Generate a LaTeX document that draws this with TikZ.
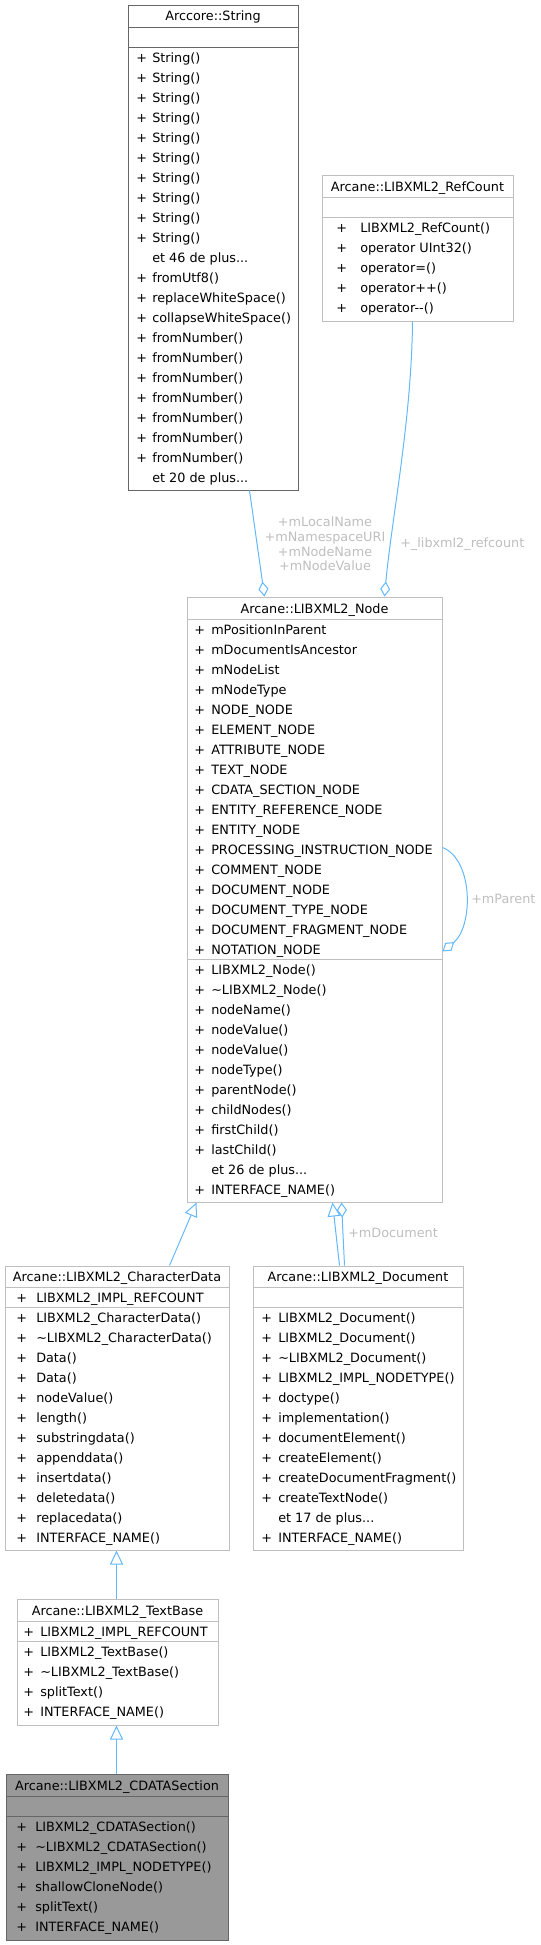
\documentclass[tikz,border=0pt]{standalone}
\usepackage{fontspec}
\setmainfont{DejaVu Sans}
\usetikzlibrary{fit,calc,arrows.meta}

\definecolor{edgeblue}{HTML}{63B8FF}
\definecolor{lblgrey}{HTML}{BEBEBE}
\definecolor{boxgrey}{HTML}{BFBFBF}
\definecolor{darkgrey}{HTML}{666666}
\definecolor{selfill}{HTML}{999999}
\newcommand{\umlfont}{\fontsize{9.6}{10.9}\selectfont}
\newcommand{\moremembers}[1]{et #1 de plus...}

\tikzset{
  classbox/.style={draw=boxgrey, line width=0.75pt, fill=white, inner sep=0pt},
  darkbox/.style={classbox, draw=darkgrey},
  rowline/.style={draw=boxgrey, line width=0.75pt},
  darkrowline/.style={rowline, draw=darkgrey},
  classname/.style={anchor=base, inner sep=0pt, font=\umlfont},
  member/.style={anchor=base west, inner sep=0pt, font=\umlfont},
  elabel/.style={inner sep=0pt, text=lblgrey, font=\umlfont},
  inherit/.style={draw=edgeblue, line width=0.75pt, -{Triangle[open, length=10.5pt, width=9.75pt]}},
  aggr/.style={draw=edgeblue, line width=0.75pt, -{Diamond[open, length=11.25pt, width=7.5pt]}}
}

\begin{document}
\begin{tikzpicture}[x=0.75pt, y=-0.75pt]
\useasboundingbox (0,0) rectangle (541,1945);

%% Arccore::String
\node[darkbox, fit={(128,5) (298,490)}] (str) {};
\draw[darkrowline] ($(str.north west)+(0,23)$) -- ($(str.north east)+(0,23)$);
\draw[darkrowline] ($(str.north west)+(0,43)$) -- ($(str.north east)+(0,43)$);
\node[classname] (str-name) at (213,21) {Arccore::String};
\foreach \sg/\mb [count=\i] in {+/String(), +/String(), +/String(), +/String(), +/String(),
    +/String(), +/String(), +/String(), +/String(), +/String(), /\moremembers{46},
    +/fromUtf8(), +/replaceWhiteSpace(), +/collapseWhiteSpace(), +/fromNumber(),
    +/fromNumber(), +/fromNumber(), +/fromNumber(), +/fromNumber(), +/fromNumber(),
    +/fromNumber(), /\moremembers{20}}
  {\node[member] (str-s\i) at (136,42.5+20*\i) {\sg};
   \node[member] (str-m\i) at (152,42.5+20*\i) {\mb};}

%% Arcane::LIBXML2_RefCount
\node[classbox, fit={(322,175) (513,321)}] (rcnt) {};
\draw[rowline] ($(rcnt.north west)+(0,23)$) -- ($(rcnt.north east)+(0,23)$);
\draw[rowline] ($(rcnt.north west)+(0,43)$) -- ($(rcnt.north east)+(0,43)$);
\node[classname] (rcnt-name) at (417.5,191) {Arcane::LIBXML2\_RefCount};
\foreach \mb [count=\i] in {LIBXML2\_RefCount(), operator UInt32(), operator=(),
    operator++(), operator-{}-()}
  {\node[member] (rcnt-s\i) at (336,212.5+20*\i) {+};
   \node[member] (rcnt-m\i) at (360,212.5+20*\i) {\mb};}

%% Arcane::LIBXML2_Node
\node[classbox, fit={(187,597) (442,1202)}] (nd) {};
\draw[rowline] ($(nd.north west)+(0,23)$) -- ($(nd.north east)+(0,23)$);
\draw[rowline] ($(nd.north west)+(0,363)$) -- ($(nd.north east)+(0,363)$);
\node[classname] (nd-name) at (314.5,613) {Arcane::LIBXML2\_Node};
\foreach \mb [count=\i] in {mPositionInParent, mDocumentIsAncestor, mNodeList, mNodeType,
    NODE\_NODE, ELEMENT\_NODE, ATTRIBUTE\_NODE, TEXT\_NODE, CDATA\_SECTION\_NODE,
    ENTITY\_REFERENCE\_NODE, ENTITY\_NODE, PROCESSING\_INSTRUCTION\_NODE, COMMENT\_NODE,
    DOCUMENT\_NODE, DOCUMENT\_TYPE\_NODE, DOCUMENT\_FRAGMENT\_NODE, NOTATION\_NODE}
  {\node[member] (nd-as\i) at (194,614.5+20*\i) {+};
   \node[member] (nd-a\i) at (211,614.5+20*\i) {\mb};}
\foreach \sg/\mb [count=\i] in {+/LIBXML2\_Node(), +/\textasciitilde LIBXML2\_Node(),
    +/nodeName(), +/nodeValue(), +/nodeValue(), +/nodeType(), +/parentNode(),
    +/childNodes(), +/firstChild(), +/lastChild(), /\moremembers{26}, +/INTERFACE\_NAME()}
  {\node[member] (nd-s\i) at (194,954.5+20*\i) {\sg};
   \node[member] (nd-m\i) at (211,954.5+20*\i) {\mb};}

%% Arcane::LIBXML2_CharacterData
\node[classbox, fit={(5,1266) (229,1550)}] (cdata) {};
\draw[rowline] ($(cdata.north west)+(0,22)$) -- ($(cdata.north east)+(0,22)$);
\draw[rowline] ($(cdata.north west)+(0,42)$) -- ($(cdata.north east)+(0,42)$);
\node[classname] (cdata-name) at (117,1281.5) {Arcane::LIBXML2\_CharacterData};
\node[member] (cdata-as1) at (16,1302.5) {+};
\node[member] (cdata-a1) at (36,1302.5) {LIBXML2\_IMPL\_REFCOUNT};
\foreach \mb [count=\i] in {LIBXML2\_CharacterData(), \textasciitilde LIBXML2\_CharacterData(),
    Data(), Data(), nodeValue(), length(), substringdata(), appenddata(), insertdata(),
    deletedata(), replacedata(), INTERFACE\_NAME()}
  {\node[member] (cdata-s\i) at (16,1302.5+20*\i) {+};
   \node[member] (cdata-m\i) at (36,1302.5+20*\i) {\mb};}

%% Arcane::LIBXML2_Document
\node[classbox, fit={(253,1266) (463,1550)}] (doc) {};
\draw[rowline] ($(doc.north west)+(0,22)$) -- ($(doc.north east)+(0,22)$);
\draw[rowline] ($(doc.north west)+(0,42)$) -- ($(doc.north east)+(0,42)$);
\node[classname] (doc-name) at (358,1281.5) {Arcane::LIBXML2\_Document};
\foreach \sg/\mb [count=\i] in {+/LIBXML2\_Document(), +/LIBXML2\_Document(),
    +/\textasciitilde LIBXML2\_Document(), +/LIBXML2\_IMPL\_NODETYPE(), +/doctype(),
    +/implementation(), +/documentElement(), +/createElement(),
    +/createDocumentFragment(), +/createTextNode(), /\moremembers{17}, +/INTERFACE\_NAME()}
  {\node[member] (doc-s\i) at (261,1302.5+20*\i) {\sg};
   \node[member] (doc-m\i) at (278,1302.5+20*\i) {\mb};}

%% Arcane::LIBXML2_TextBase
\node[classbox, fit={(17,1599) (218,1725)}] (tbase) {};
\draw[rowline] ($(tbase.north west)+(0,23)$) -- ($(tbase.north east)+(0,23)$);
\draw[rowline] ($(tbase.north west)+(0,43)$) -- ($(tbase.north east)+(0,43)$);
\node[classname] (tbase-name) at (117.5,1615) {Arcane::LIBXML2\_TextBase};
\node[member] (tbase-as1) at (23,1636.5) {+};
\node[member] (tbase-a1) at (40,1636.5) {LIBXML2\_IMPL\_REFCOUNT};
\foreach \mb [count=\i] in {LIBXML2\_TextBase(), \textasciitilde LIBXML2\_TextBase(),
    splitText(), INTERFACE\_NAME()}
  {\node[member] (tbase-s\i) at (23,1636.5+20*\i) {+};
   \node[member] (tbase-m\i) at (40,1636.5+20*\i) {\mb};}

%% Arcane::LIBXML2_CDATASection
\node[darkbox, fill=selfill, fit={(6,1774) (228,1940)}] (cdsec) {};
\draw[darkrowline] ($(cdsec.north west)+(0,23)$) -- ($(cdsec.north east)+(0,23)$);
\draw[darkrowline] ($(cdsec.north west)+(0,43)$) -- ($(cdsec.north east)+(0,43)$);
\node[classname] (cdsec-name) at (117,1790) {Arcane::LIBXML2\_CDATASection};
\foreach \mb [count=\i] in {LIBXML2\_CDATASection(), \textasciitilde LIBXML2\_CDATASection(),
    LIBXML2\_IMPL\_NODETYPE(), shallowCloneNode(), splitText(), INTERFACE\_NAME()}
  {\node[member] (cdsec-s\i) at (16,1811.5+20*\i) {+};
   \node[member] (cdsec-m\i) at (35,1811.5+20*\i) {\mb};}

%% members
\draw[aggr] ($(str.south west)+(122,0)$) -- ($(nd.north west)+(78,0)$);
\node[elabel, align=center] (str-role) at (325,544)
  {+mLocalName\\+mNamespaceURI\\+mNodeName\\+mNodeValue};
\draw[aggr] ($(rcnt.south west)+(91,0)$) .. controls +(-1,100) and +(7,-77)
  .. ($(nd.north west)+(198,0)$);
\node[elabel, anchor=base west] (rcnt-role) at (400,547.5) {+\_libxml2\_refcount};
\draw[aggr] ($(nd.north east)+(0,251)$) .. controls +(31,12) and +(31,-25)
  .. ($(nd.north east)+(0,355)$);
\node[elabel, anchor=base west] (nd-role) at (471,903.5) {+mParent};
\draw[aggr] ($(doc.north west)+(92,0)$) -- ($(nd.south west)+(155,0)$);
\node[elabel, anchor=base west] (doc-role) at (348,1237.5) {+mDocument};

%% inheritance
\draw[inherit] ($(cdata.north west)+(165,0)$) -- ($(nd.south west)+(10,0)$);
\draw[inherit] ($(doc.north west)+(87,0)$) -- ($(nd.south west)+(146,0)$);
\draw[inherit] ($(tbase.north west)+(100,0)$) -- ($(cdata.south west)+(112,0)$);
\draw[inherit] ($(cdsec.north west)+(111,0)$) -- ($(tbase.south west)+(100,0)$);

\end{tikzpicture}
\end{document}
